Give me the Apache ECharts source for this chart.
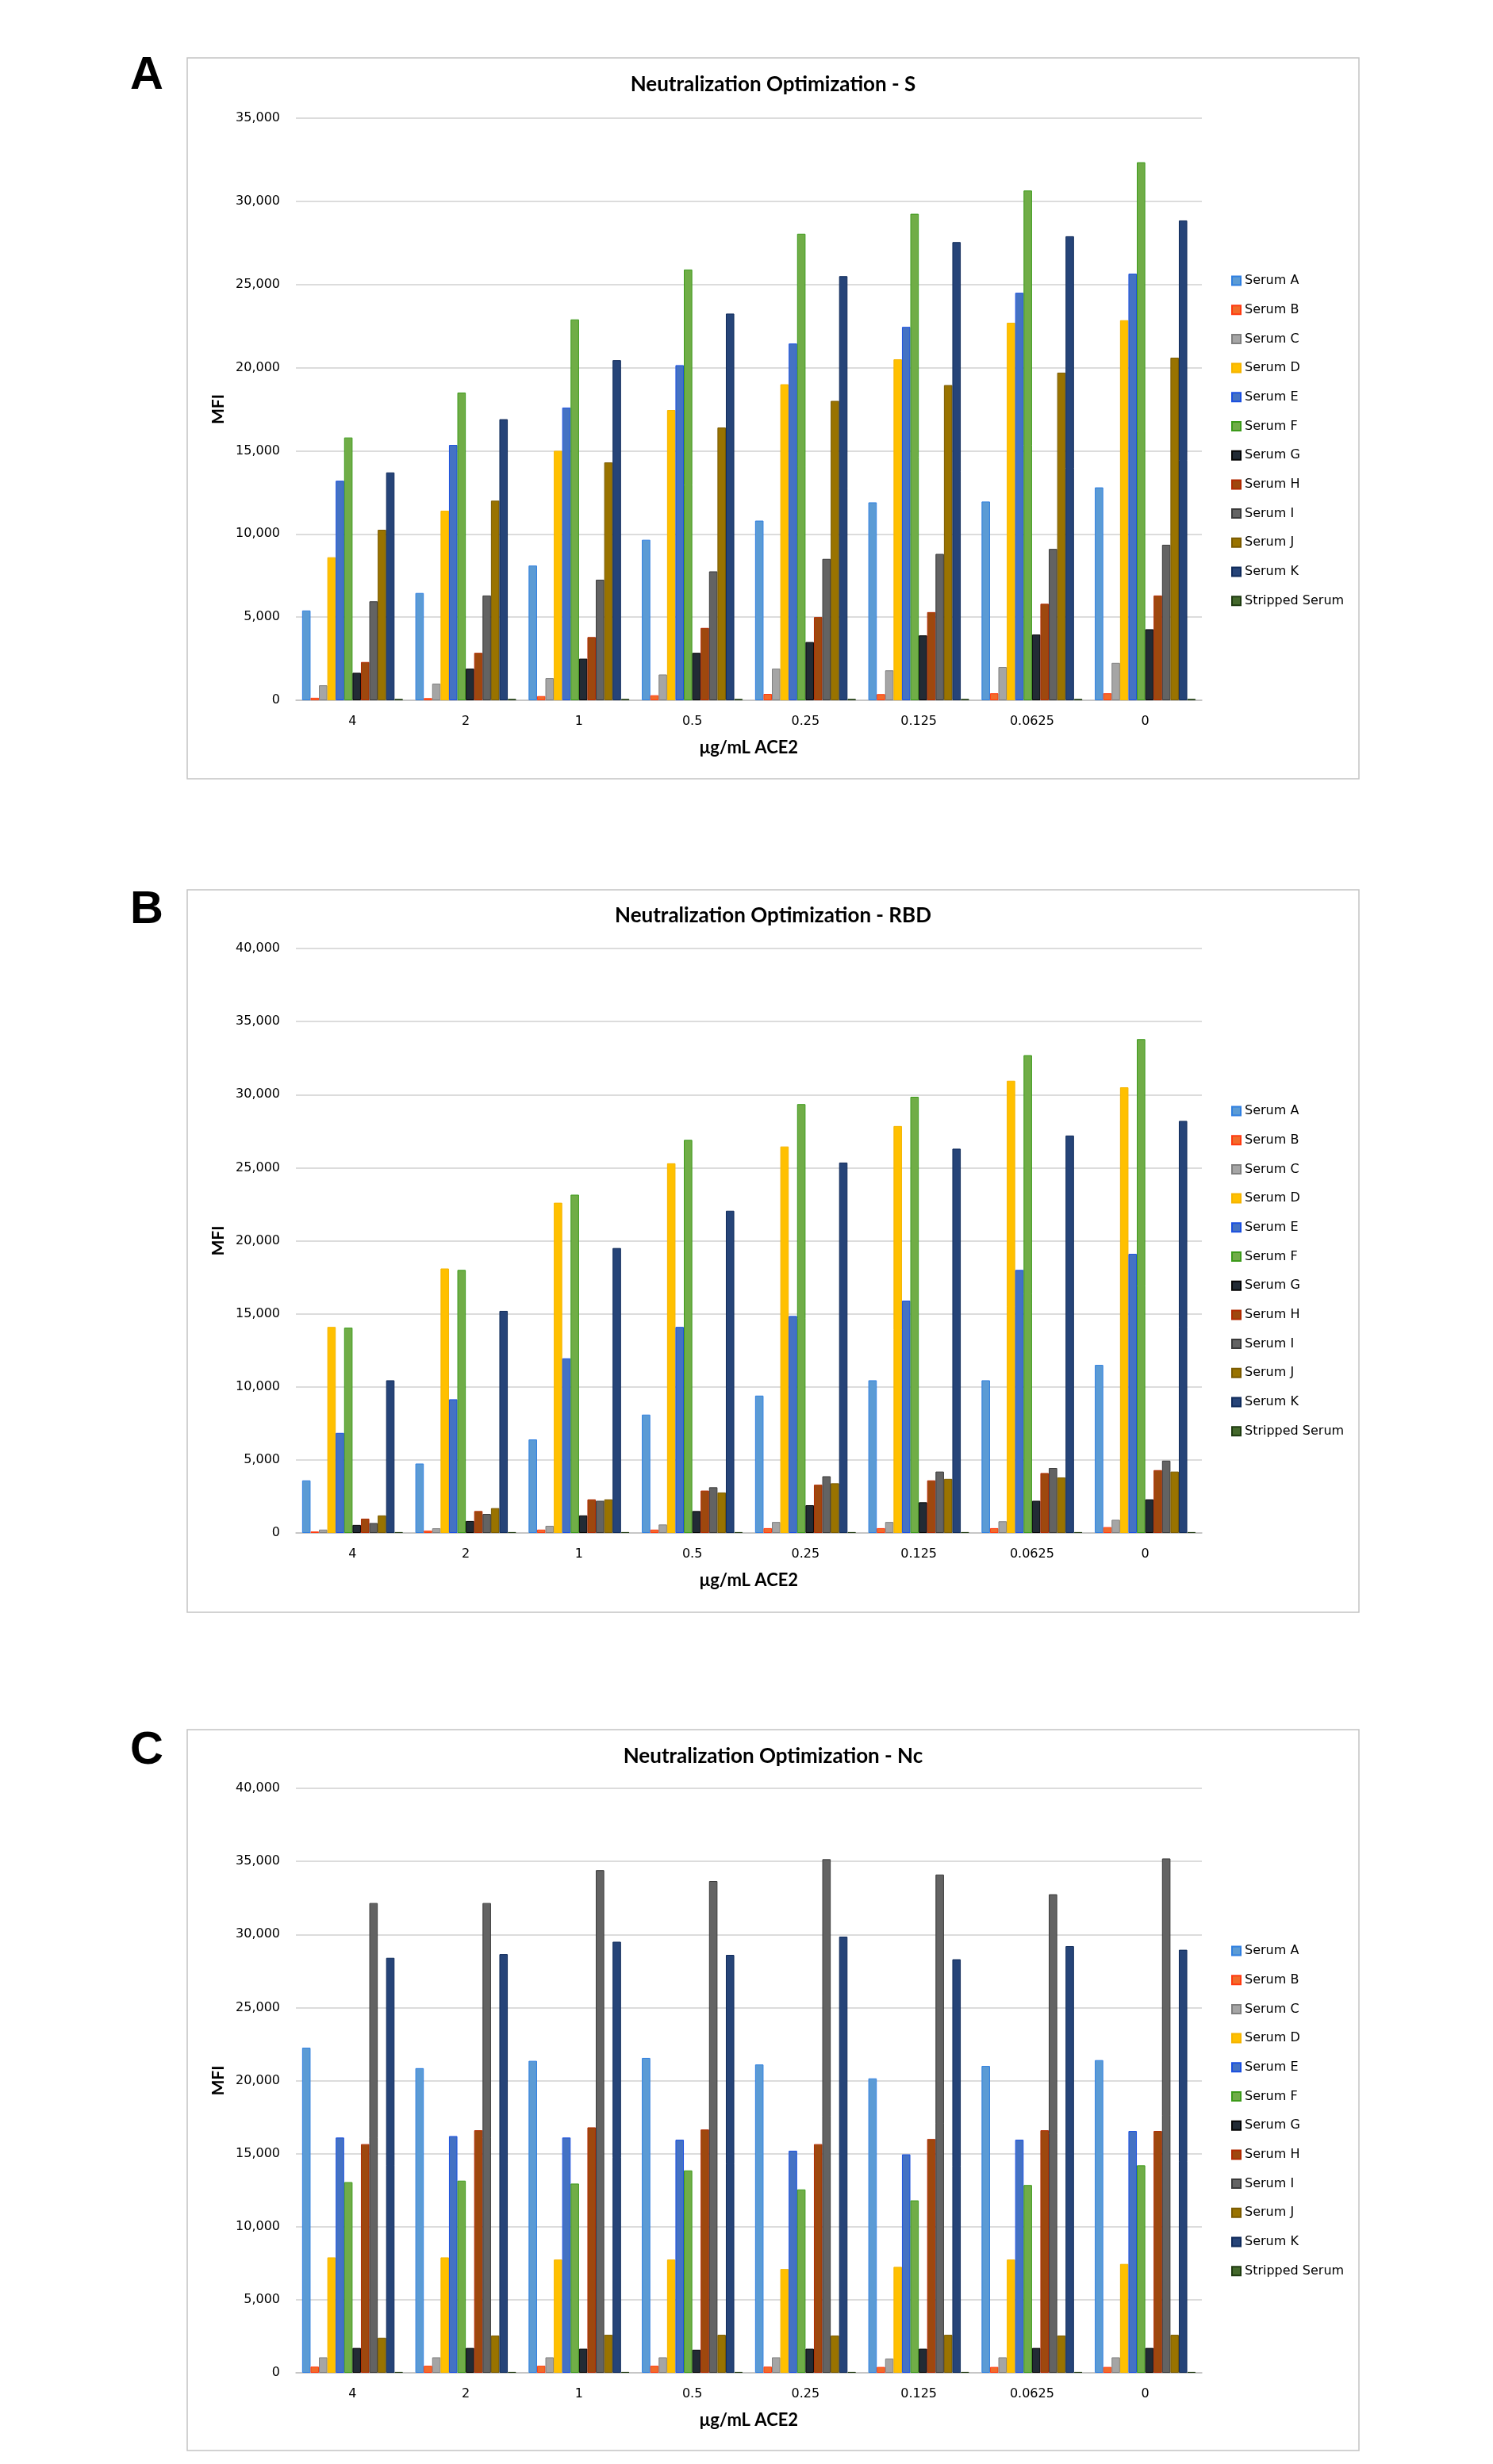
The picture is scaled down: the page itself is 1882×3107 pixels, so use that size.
<!DOCTYPE html>
<html>
<head>
<meta charset="utf-8">
<script src="https://cdn.jsdelivr.net/npm/echarts@6/dist/echarts.min.js"></script>
<style>
html,body{margin:0;padding:0;background:#fff;}
#chart{width:1882px;height:3107px;}
</style>
</head>
<body>
<div id="chart"></div>
<script>
// ---- data ----
const categories = ['4', '2', '1', '0.5', '0.25', '0.125', '0.0625', '0'];
const seriesNames = ['Serum A','Serum B','Serum C','Serum D','Serum E','Serum F','Serum G','Serum H','Serum I','Serum J','Serum K','Stripped Serum'];
const panelTitles = ['Neutralization Optimization - S', 'Neutralization Optimization - RBD', 'Neutralization Optimization - Nc'];
const panelLetters = ['A', 'B', 'C'];
const yMaxes = [35000, 40000, 40000];
const yInterval = 5000;
const xAxisTitle = 'μg/mL ACE2';
const yAxisTitle = 'MFI';

// rows = series (Serum A..K, Stripped), columns = categories
const valuesS = [
  [5400, 6450, 8100, 9650, 10800, 11900, 11950, 12800],
  [150, 130, 250, 300, 380, 370, 420, 420],
  [900, 1000, 1330, 1550, 1900, 1800, 2000, 2250],
  [8600, 11400, 15000, 17450, 19000, 20500, 22700, 22850],
  [13200, 15350, 17600, 20150, 21450, 22450, 24500, 25650],
  [15800, 18500, 22900, 25900, 28050, 29250, 30650, 32350],
  [1650, 1900, 2500, 2850, 3500, 3900, 3950, 4270],
  [2300, 2850, 3800, 4350, 5000, 5300, 5800, 6300],
  [5950, 6300, 7250, 7750, 8500, 8800, 9100, 9350],
  [10250, 12000, 14300, 16400, 18000, 18950, 19700, 20600],
  [13700, 16900, 20450, 23250, 25500, 27550, 27900, 28850],
  [80, 80, 80, 80, 80, 80, 80, 80]
];
const valuesRBD = [
  [3600, 4750, 6400, 8100, 9400, 10450, 10450, 11500],
  [100, 160, 230, 230, 330, 330, 330, 400],
  [230, 320, 490, 580, 750, 750, 800, 900],
  [14100, 18100, 22600, 25300, 26450, 27850, 30950, 30500],
  [6850, 9150, 11950, 14100, 14850, 15900, 18000, 19100],
  [14050, 18000, 23150, 26900, 29350, 29850, 32700, 33800],
  [550, 820, 1200, 1500, 1900, 2100, 2200, 2300],
  [980, 1500, 2300, 2900, 3300, 3600, 4100, 4300],
  [680, 1300, 2200, 3130, 3880, 4200, 4450, 4950],
  [1200, 1700, 2300, 2770, 3400, 3700, 3800, 4200],
  [10450, 15200, 19500, 22050, 25350, 26300, 27200, 28200],
  [60, 60, 60, 60, 60, 60, 60, 60]
];
const valuesNc = [
  [22250, 20850, 21350, 21550, 21100, 20150, 21000, 21400],
  [420, 480, 480, 480, 420, 400, 400, 400],
  [1060, 1060, 1060, 1060, 1060, 970, 1060, 1060],
  [7900, 7900, 7750, 7750, 7100, 7250, 7750, 7450],
  [16100, 16200, 16100, 15950, 15200, 14950, 15950, 16550],
  [13050, 13150, 12950, 13850, 12550, 11800, 12850, 14200],
  [1700, 1700, 1650, 1580, 1650, 1650, 1700, 1700],
  [15650, 16600, 16800, 16650, 15650, 16000, 16600, 16550],
  [32150, 32150, 34400, 33650, 35150, 34100, 32750, 35200],
  [2400, 2550, 2600, 2600, 2550, 2600, 2550, 2600],
  [28400, 28650, 29500, 28600, 29850, 28300, 29200, 28950],
  [60, 60, 60, 60, 60, 60, 60, 60]
];
const panelValues = [valuesS, valuesRBD, valuesNc];

const fillColors = ['#5B9BD5','#F26B2A','#A5A5A5','#FFC000','#4472C4','#70AD47','#222B35','#9E480E','#636363','#997300','#264478','#43682B'];
const borderColors = ['#2F7FE0','#FF3A10','#7F7F7F','#F5B400','#1A4FE0','#3C9A1A','#050505','#B02A00','#3A3A3A','#7A5A00','#0F2A5A','#1E3A10'];

// ---- layout ----
const plotLeft = 373, plotRight = 1882 - 1515;
const plotTops = [149, 1196, 2255];
const plotHeights = [734, 737, 737];
const boxes = [[236, 73, 1477, 909], [236, 1122, 1477, 911], [236, 2181, 1477, 909]];
const legendTops = [341, 1388, 2447];
const titleYs = [107, 1155, 2215];
const letterYs = [96, 1148, 2208];

function fmt(v){ return String(v).replace(/\B(?=(\d{3})+(?!\d))/g, ','); }

const grids = [], xAxes = [], yAxes = [], series = [], legends = [], graphics = [];
for (let p = 0; p < 3; p++) {
  grids.push({left: plotLeft, right: plotRight, top: plotTops[p], height: plotHeights[p], containLabel: false});
  xAxes.push({
    type: 'category', gridIndex: p, data: categories,
    axisLine: {show: true, lineStyle: {color: '#BFBFBF', width: 1.5}},
    axisTick: {show: false},
    axisLabel: {margin: 19, fontFamily: 'DejaVu Sans', fontSize: 16, color: '#000'},
    name: xAxisTitle, nameLocation: 'middle', nameGap: 49,
    nameTextStyle: {fontFamily: 'Lato', fontWeight: 'bold', fontSize: 22, color: '#000'}
  });
  yAxes.push({
    type: 'value', gridIndex: p, min: 0, max: yMaxes[p], interval: yInterval,
    axisLine: {show: false}, axisTick: {show: false},
    splitLine: {lineStyle: {color: '#D0D0D0', width: 1.5}},
    axisLabel: {margin: 20, fontFamily: 'DejaVu Sans', fontSize: 16, color: '#000', formatter: fmt},
    name: yAxisTitle, nameLocation: 'middle', nameRotate: 90, nameGap: 84,
    nameTextStyle: {fontFamily: 'Lato', fontWeight: 'bold', fontSize: 21, color: '#000'}
  });
  for (let s = 0; s < seriesNames.length; s++) {
    series.push({
      type: 'bar', name: seriesNames[s], xAxisIndex: p, yAxisIndex: p,
      data: panelValues[p][s],
      barGap: '0%', barCategoryGap: '11%',
      itemStyle: {color: fillColors[s], borderColor: borderColors[s], borderWidth: 1},
      emphasis: {disabled: true}
    });
  }
  legends.push({
    orient: 'vertical', left: 1547, top: legendTops[p],
    itemWidth: 11, itemHeight: 11, itemGap: 20.7, icon: 'rect',
    textStyle: {fontFamily: 'DejaVu Sans', fontSize: 16, color: '#000', lineHeight: 16},
    data: seriesNames, selectedMode: false
  });
  graphics.push({
    type: 'rect', shape: {x: boxes[p][0], y: boxes[p][1], width: boxes[p][2], height: boxes[p][3]},
    style: {fill: 'none', stroke: '#C4C4C4', lineWidth: 1.5}, silent: true, z: -1
  });
  graphics.push({
    type: 'text', x: 974.5, y: titleYs[p],
    style: {text: panelTitles[p], textAlign: 'center', textVerticalAlign: 'middle', verticalAlign: 'middle',
      font: 'bold 26px Lato', fill: '#000'}
  });
  graphics.push({
    type: 'text', x: 185, y: letterYs[p],
    style: {text: panelLetters[p], textAlign: 'center', textVerticalAlign: 'middle', verticalAlign: 'middle',
      font: 'bold 58px "Liberation Sans"', fill: '#000'}
  });
}

const chart = echarts.init(document.getElementById('chart'), null, {renderer: 'canvas'});
chart.setOption({
  backgroundColor: '#fff',
  animation: false,
  grid: grids, xAxis: xAxes, yAxis: yAxes, series: series, legend: legends,
  graphic: graphics
});
</script>
</body>
</html>
